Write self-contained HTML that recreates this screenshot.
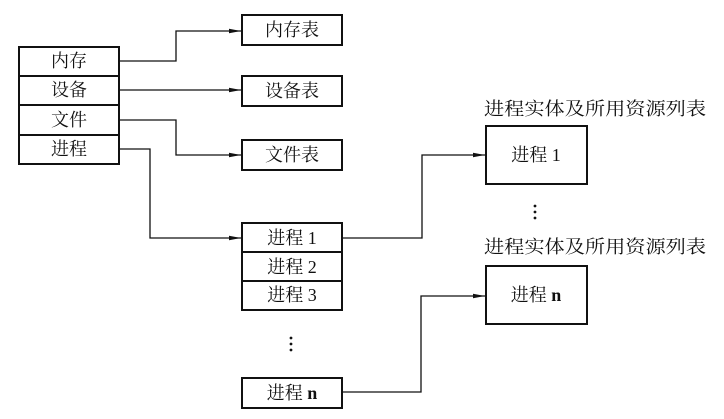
<!DOCTYPE html>
<html><head><meta charset="utf-8"><style>
html,body{margin:0;padding:0;background:#fff;}
svg{display:block}
text{font-family:"Liberation Serif","Noto Serif CJK SC","Noto Sans CJK SC",serif;font-size:18px;fill:#111;text-anchor:middle;dominant-baseline:central}
</style></head><body>
<svg width="724" height="419" viewBox="0 0 724 419" xmlns="http://www.w3.org/2000/svg">
<defs><marker id="a" markerWidth="12" markerHeight="6" refX="12" refY="3" orient="auto" markerUnits="userSpaceOnUse"><path d="M0,0.8 L12,3 L0,5.2z" fill="#111"/></marker></defs>
<g fill="none" stroke="#111" stroke-width="2">
<rect x="19" y="47" width="100" height="117"/>
<line x1="19" y1="76" x2="119" y2="76"/><line x1="19" y1="105" x2="119" y2="105"/><line x1="19" y1="135" x2="119" y2="135"/>
<rect x="242" y="15" width="100" height="30"/>
<rect x="242" y="76" width="100" height="30"/>
<rect x="242" y="140" width="100" height="30"/>
<rect x="242" y="223" width="100" height="87"/>
<line x1="242" y1="252" x2="342" y2="252"/><line x1="242" y1="281" x2="342" y2="281"/>
<rect x="242" y="378" width="100" height="30"/>
<rect x="486" y="126" width="101" height="58"/>
<rect x="486" y="266" width="101" height="58"/>
</g>
<g fill="none" stroke="#111" stroke-width="1.3">
<polyline points="120,61 176,61 176,31 241,31" marker-end="url(#a)"/>
<polyline points="120,90 241,90" marker-end="url(#a)"/>
<polyline points="120,120 176,120 176,155 241,155" marker-end="url(#a)"/>
<polyline points="120,149 150,149 150,238 241,238" marker-end="url(#a)"/>
<polyline points="343,238 422,238 422,155 485,155" marker-end="url(#a)"/>
<polyline points="343,392 421,392 421,296 485,296" marker-end="url(#a)"/>
</g>
<g fill="#111">
<circle cx="291" cy="338" r="1.4"/><circle cx="291" cy="344" r="1.4"/><circle cx="291" cy="350" r="1.4"/>
<circle cx="535" cy="206" r="1.4"/><circle cx="535" cy="212" r="1.4"/><circle cx="535" cy="218" r="1.4"/>
</g>
<text x="69" y="61">内存</text><text x="69" y="90">设备</text><text x="69" y="120">文件</text><text x="69" y="149">进程</text>
<text x="292" y="30">内存表</text><text x="292" y="91">设备表</text><text x="292" y="155">文件表</text>
<text x="292" y="238">进程 1</text><text x="292" y="267">进程 2</text><text x="292" y="295">进程 3</text><text x="292" y="393">进程 <tspan font-weight="bold">n</tspan></text>
<text x="536" y="155">进程 1</text><text x="536" y="295">进程 <tspan font-weight="bold">n</tspan></text>
<text x="595" y="109" textLength="222" lengthAdjust="spacingAndGlyphs">进程实体及所用资源列表</text>
<text x="595" y="247" textLength="222" lengthAdjust="spacingAndGlyphs">进程实体及所用资源列表</text>
</svg>
</body></html>
